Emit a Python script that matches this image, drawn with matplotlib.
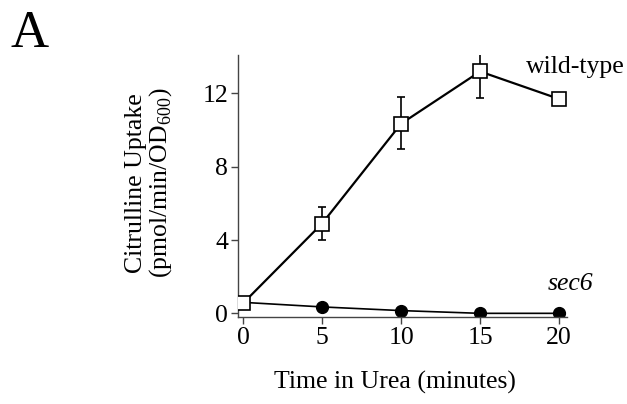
import matplotlib
matplotlib.use("Agg")
import matplotlib.pyplot as plt

plt.rcParams['font.family'] = ['Liberation Serif', 'DejaVu Serif']
plt.rcParams['mathtext.fontset'] = 'custom'
plt.rcParams['mathtext.rm'] = 'Liberation Serif'

time = [0, 5, 10, 15, 20]
wild_type = [0.55, 4.9, 10.35, 13.2, 11.7]
wt_err_lo = [0.0, 0.9, 1.4, 1.45, 0.0]
wt_err_hi = [0.0, 0.9, 1.45, 1.4, 0.0]
sec6 = [0.6, 0.35, 0.15, 0.0, 0.0]

fig = plt.figure(figsize=(6.27, 4.04), dpi=100)
ax = fig.add_axes([238/627, 1 - 317/404, (567 - 238)/627, (317 - 55)/404])

ax.plot(time, sec6, color='black', lw=1.2, marker='o', ms=8.5,
        mfc='black', mec='black', zorder=2, markevery=[1, 2, 3, 4])
ax.errorbar(time, wild_type, yerr=[wt_err_lo, wt_err_hi], color='black',
            lw=1.6, elinewidth=1.2, capsize=3, capthick=1.2,
            marker='s', ms=9.5, mfc='white', mec='black', mew=1.2, zorder=3)

ax.set_xlim(-0.32, 20.5)
ax.set_ylim(-0.2, 14.1)
ax.set_xticks([0, 5, 10, 15, 20])
ax.set_yticks([0, 4, 8, 12])
for s in ['top', 'right']:
    ax.spines[s].set_visible(False)
for s in ['left', 'bottom']:
    ax.spines[s].set_color('#444444')
    ax.spines[s].set_linewidth(1.0)
ax.tick_params(direction='out', length=5, width=1, labelsize=18.5, pad=2,
               color='#444444')

ax.text(21.0, 13.45, 'wild-type', fontsize=18.5, ha='center', va='center')
ax.text(20.7, 1.6, 'sec6', fontsize=18.5, style='italic', ha='center', va='center')

fig.text(0.016, 0.884, 'A', fontsize=38, va='baseline')
fig.text(0.239, 0.547, 'Citrulline Uptake\n(pmol/min/OD$_{600}$)', fontsize=18.5,
         rotation=90, ha='center', va='center', linespacing=1.0)
fig.text(0.63, 0.054, 'Time in Urea (minutes)', fontsize=18.5, ha='center', va='center')

fig.savefig('out.png', dpi=100)
